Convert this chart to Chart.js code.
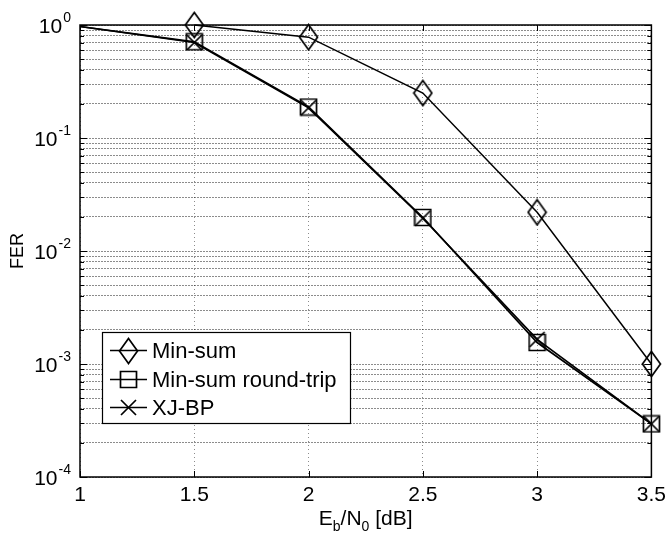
<!DOCTYPE html>
<html>
<head>
<meta charset="utf-8">
<script src="https://cdn.jsdelivr.net/npm/chart.js@4"></script>
<style>
  html, body { margin: 0; padding: 0; background: #fff; }
  #wrap { width: 672px; height: 537px; }
</style>
</head>
<body>
<div id="wrap"><canvas id="fer" width="672" height="537"></canvas></div>
<script>
// Eb/N0 in dB
const ebn0 = [1, 1.5, 2, 2.5, 3, 3.5];
const xTickLabels = ['1', '1.5', '2', '2.5', '3', '3.5'];
// frame error rate per decoder
const minSum = [null, 1.0, 0.78, 0.25, 0.022, 0.001];
const minSumRoundTrip = [0.97, 0.71, 0.188, 0.0198, 0.00155, 0.000295];
const xjbp = [0.97, 0.70, 0.185, 0.0195, 0.00165, 0.000295];
// y decades and their exponents
const yDecades = [1e-4, 1e-3, 1e-2, 1e-1, 1];
const yExponents = ['-4', '-3', '-2', '-1', '0'];

const FONT = '"Liberation Sans", Arial, Helvetica, sans-serif';

const makeMarker = (kind) => {
    const c = document.createElement('canvas');
    const w = kind === 'diamond' ? 21 : 19;
    const h = kind === 'diamond' ? 28 : 19;
    c.width = w; c.height = h;
    const g = c.getContext('2d');
    g.strokeStyle = '#000';
    g.lineWidth = 1.7;
    g.beginPath();
    if (kind === 'diamond') {
        g.moveTo(w / 2, 1.5); g.lineTo(w - 1.5, h / 2);
        g.lineTo(w / 2, h - 1.5); g.lineTo(1.5, h / 2);
        g.closePath();
    } else if (kind === 'square') {
        g.rect(1.5, 1.5, w - 3, h - 3);
    } else {
        g.moveTo(2, 2); g.lineTo(w - 2, h - 2);
        g.moveTo(w - 2, 2); g.lineTo(2, h - 2);
    }
    g.stroke();
    return c;
};
const diamond = makeMarker('diamond');
const square = makeMarker('square');
const cross = makeMarker('cross');

const toPoints = (vals) => ebn0.map((x, i) => ({ x: x, y: vals[i] }));
const hideFirst = (vals) => vals.map((v, i) => (i === 0 ? 0 : 6));

// frame, inward ticks, custom labels and legend
const decorations = {
    id: 'decorations',
    afterDatasetsDraw(chart) {
        const ctx = chart.ctx;
        const a = chart.chartArea;
        const xs = chart.scales.x, ys = chart.scales.y;
        ctx.save();
        ctx.strokeStyle = '#000';
        ctx.lineWidth = 1;
        ctx.beginPath();
        // x ticks top and bottom
        ebn0.forEach((v) => {
            const px = Math.round(xs.getPixelForValue(v)) + 0.5;
            ctx.moveTo(px, a.bottom); ctx.lineTo(px, a.bottom - 6);
            ctx.moveTo(px, a.top); ctx.lineTo(px, a.top + 6);
        });
        // y ticks left and right
        yDecades.forEach((d, k) => {
            for (let m = 1; m <= 9; m++) {
                const v = d * m;
                if (v > 1.0001 || (k === yDecades.length - 1 && m > 1)) continue;
                const py = Math.round(ys.getPixelForValue(v)) + 0.5;
                const len = m === 1 ? 7 : 4;
                ctx.moveTo(a.left, py); ctx.lineTo(a.left + len, py);
                ctx.moveTo(a.right, py); ctx.lineTo(a.right - len, py);
            }
        });
        ctx.stroke();
        ctx.lineWidth = 1.5;
        ctx.strokeRect(a.left, a.top, a.right - a.left, a.bottom - a.top);

        // y labels 10^n
        ctx.fillStyle = '#000';
        ctx.textBaseline = 'alphabetic';
        yDecades.forEach((d, k) => {
            const py = ys.getPixelForValue(d);
            ctx.font = '14px ' + FONT;
            const ew = ctx.measureText(yExponents[k]).width;
            ctx.textAlign = 'left';
            const right = a.left - 9;
            ctx.fillText(yExponents[k], right - ew, py - 3);
            ctx.font = '21px ' + FONT;
            ctx.textAlign = 'right';
            ctx.fillText('10', right - ew - 1, py + 8);
        });

        // x title with subscripts
        const parts = [['E', 21, 0], ['b', 14, 6], ['/N', 21, 0], ['0', 14, 6], [' [dB]', 21, 0]];
        let total = 0;
        parts.forEach((p) => { ctx.font = p[1] + 'px ' + FONT; total += ctx.measureText(p[0]).width; });
        let cx = (a.left + a.right) / 2 - total / 2;
        ctx.textAlign = 'left';
        parts.forEach((p) => {
            ctx.font = p[1] + 'px ' + FONT;
            ctx.fillText(p[0], cx, 525 + p[2]);
            cx += ctx.measureText(p[0]).width;
        });

        // y title
        ctx.save();
        ctx.translate(18, (a.top + a.bottom) / 2);
        ctx.rotate(-Math.PI / 2);
        ctx.font = '18px ' + FONT;
        ctx.textAlign = 'center';
        ctx.textBaseline = 'middle';
        ctx.fillText('FER', 0, 0);
        ctx.restore();

        // legend box
        const lx = a.left + 22, ly = 332, lw = 248, lh = 91;
        ctx.fillStyle = '#fff';
        ctx.fillRect(lx, ly, lw, lh);
        ctx.lineWidth = 1.2;
        ctx.strokeStyle = '#000';
        ctx.strokeRect(lx + 0.5, ly + 0.5, lw, lh);
        chart.data.datasets.forEach((ds, i) => {
            const ry = Math.round(ly + 18 + i * 28.5) + 0.5;
            ctx.lineWidth = ds.borderWidth;
            ctx.beginPath();
            ctx.moveTo(lx + 8, ry); ctx.lineTo(lx + 45, ry);
            ctx.stroke();
            const mk = ds.legendMarker;
            ctx.drawImage(mk, Math.round(lx + 26.5 - mk.width / 2), Math.round(ry - mk.height / 2));
            ctx.fillStyle = '#000';
            ctx.font = '22px ' + FONT;
            ctx.textAlign = 'left';
            ctx.textBaseline = 'middle';
            ctx.fillText(ds.label, lx + 50, ry + 1);
        });
        ctx.restore();
    }
};

new Chart(document.getElementById('fer'), {
    type: 'line',
    data: {
        datasets: [
            {
                label: 'Min-sum',
                data: toPoints(minSum),
                borderColor: '#000',
                borderWidth: 1.5,
                pointStyle: diamond,
                legendMarker: diamond,
                pointRadius: hideFirst(minSum),
                clip: false,
            },
            {
                label: 'Min-sum round-trip',
                data: toPoints(minSumRoundTrip),
                borderColor: '#000',
                borderWidth: 1.7,
                pointStyle: square,
                legendMarker: square,
                pointRadius: hideFirst(minSumRoundTrip),
                clip: false,
            },
            {
                label: 'XJ-BP',
                data: toPoints(xjbp),
                borderColor: '#000',
                borderWidth: 1.7,
                pointStyle: cross,
                legendMarker: cross,
                pointRadius: hideFirst(xjbp),
                clip: false,
            },
        ]
    },
    options: {
        responsive: false,
        animation: false,
        layout: { padding: { left: 0, top: 25, right: 18, bottom: 0 } },
        plugins: {
            legend: { display: false },
            tooltip: { enabled: false },
        },
        scales: {
            x: {
                type: 'linear',
                min: 1,
                max: 3.5,
                afterBuildTicks: (scale) => { scale.ticks = ebn0.map((v) => ({ value: v })); },
                afterFit: (scale) => { scale.height = 60; },
                ticks: {
                    autoSkip: false,
                    maxRotation: 0,
                    padding: 6,
                    color: '#000',
                    font: { family: FONT, size: 21 },
                    callback: (v, i) => xTickLabels[i],
                },
                grid: { color: 'rgba(0,0,0,0.45)', lineWidth: 1, drawTicks: false },
                border: { display: false, dash: [1, 3] },
            },
            y: {
                type: 'logarithmic',
                min: 1e-4,
                max: 1,
                afterBuildTicks: (scale) => {
                    const t = [];
                    yDecades.forEach((d) => {
                        for (let m = 1; m <= 9; m++) {
                            if (d * m <= 1.0001) t.push({ value: d * m });
                        }
                    });
                    scale.ticks = t;
                },
                afterFit: (scale) => { scale.width = 80; },
                ticks: { display: false, autoSkip: false },
                grid: { color: 'rgba(0,0,0,0.45)', lineWidth: 1, drawTicks: false },
                border: { display: false, dash: [2, 1] },
            }
        }
    },
    plugins: [decorations],
});
</script>
</body>
</html>
